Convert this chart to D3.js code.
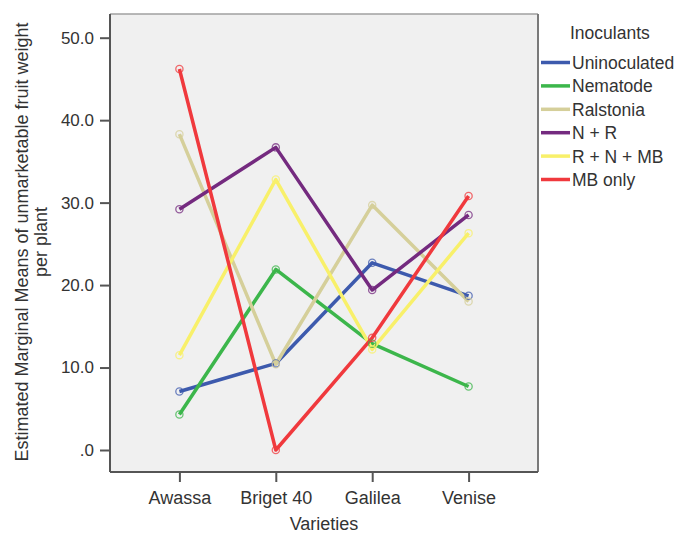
<!DOCTYPE html>
<html>
<head>
<meta charset="utf-8">
<script src="https://cdn.jsdelivr.net/npm/d3@7"></script>
<style>
  body { margin: 0; background: #fff; }
  text { font-family: "Liberation Sans", Arial, sans-serif; fill: #333; }
</style>
</head>
<body>
<div id="chart"></div>
<script>
// Data
const varieties = ["Awassa", "Briget 40", "Galilea", "Venise"];
const inoculants = ["Uninoculated", "Nematode", "Ralstonia", "N + R", "R + N + MB", "MB only"];
const colors = ["#3d5aad", "#3cb64b", "#d5cf9a", "#742a7f", "#f8f06a", "#f0393d"];

const uninoculated = [7.1, 10.5, 22.7, 18.7];
const nematode = [4.3, 21.9, 12.9, 7.7];
const ralstonia = [38.3, 10.4, 29.7, 18.0];
const nPlusR = [29.2, 36.7, 19.4, 28.5];
const rnmb = [11.5, 32.8, 12.2, 26.3];
const mbOnly = [46.2, 0.0, 13.6, 30.8];

const yTicks = [0, 10, 20, 30, 40, 50];

const series = [uninoculated, nematode, ralstonia, nPlusR, rnmb, mbOnly]
    .map((vals, i) => ({ name: inoculants[i], color: colors[i], values: vals }));

const width = 690, height = 536;
const plot = { left: 110, top: 14, right: 538, bottom: 472 };

const svg = d3.select("#chart").append("svg")
    .attr("width", width)
    .attr("height", height);

// Plot background
svg.append("rect")
    .attr("x", plot.left)
    .attr("y", plot.top)
    .attr("width", plot.right - plot.left)
    .attr("height", plot.bottom - plot.top)
    .attr("fill", "#f0f0f0");

const x = d3.scalePoint()
    .domain(varieties)
    .range([plot.left, plot.right])
    .padding(0.72);

const y = d3.scaleLinear()
    .domain([0, 50])
    .range([450, 37.7]);

// Frame top/right
svg.append("line")
    .attr("x1", plot.left).attr("x2", plot.right)
    .attr("y1", plot.top).attr("y2", plot.top)
    .attr("stroke", "#a0a0a0").attr("stroke-width", 1.5);
svg.append("line")
    .attr("x1", plot.right).attr("x2", plot.right)
    .attr("y1", plot.top).attr("y2", plot.bottom)
    .attr("stroke", "#7a7a7a").attr("stroke-width", 2);

// Axes
const yAxis = svg.append("g")
    .attr("transform", `translate(${plot.left},0)`)
    .call(d3.axisLeft(y).tickValues(yTicks).tickSize(10).tickSizeOuter(0)
        .tickFormat(d => d === 0 ? ".0" : d3.format(".1f")(d)));
yAxis.select(".domain").attr("d", `M0,${plot.top}V${plot.bottom}`);

const xAxis = svg.append("g")
    .attr("transform", `translate(0,${plot.bottom})`)
    .call(d3.axisBottom(x).tickSize(10).tickSizeOuter(0));
xAxis.select(".domain").attr("d", `M${plot.left},0H${plot.right}`);

svg.selectAll(".domain").attr("stroke", "#555").attr("stroke-width", 2);
svg.selectAll(".tick line").attr("stroke", "#555").attr("stroke-width", 2);
svg.selectAll(".tick text")
    .attr("font-family", "'Liberation Sans', Arial, sans-serif")
    .attr("fill", "#333");
yAxis.selectAll(".tick text").attr("x", -16).attr("font-size", 17);
xAxis.selectAll(".tick text").attr("y", 19).attr("font-size", 18);

// Lines
const line = d3.line()
    .x((d, i) => x(varieties[i]))
    .y(d => y(d));

const g = svg.append("g");
series.forEach(s => {
    g.append("path")
        .datum(s.values)
        .attr("fill", "none")
        .attr("stroke", s.color)
        .attr("stroke-width", 3.5)
        .attr("stroke-linejoin", "round")
        .attr("d", line);
});
series.forEach(s => {
    g.selectAll(null)
        .data(s.values)
        .enter()
        .append("circle")
        .attr("cx", (d, i) => x(varieties[i]))
        .attr("cy", d => y(d))
        .attr("r", 3.6)
        .attr("fill", "none")
        .attr("stroke", s.color)
        .attr("stroke-width", 1.3)
        .attr("opacity", 0.75);
});

// Axis titles
svg.append("text")
    .attr("x", (plot.left + plot.right) / 2)
    .attr("y", 530)
    .attr("text-anchor", "middle")
    .attr("font-size", 18)
    .text("Varieties");

const yTitle = svg.append("text")
    .attr("transform", `translate(28,${242}) rotate(-90)`)
    .attr("text-anchor", "middle")
    .attr("font-size", 18);
yTitle.append("tspan").attr("x", 0).attr("dy", 0)
    .text("Estimated Marginal Means of unmarketable fruit weight");
yTitle.append("tspan").attr("x", 0).attr("dy", 19).text("per plant");

// Legend
svg.append("text")
    .attr("x", 570)
    .attr("y", 39)
    .attr("font-size", 17.5)
    .text("Inoculants");

const legend = svg.append("g");
series.forEach((s, i) => {
    const ly = 62.5 + i * 23.4;
    legend.append("line")
        .attr("x1", 541).attr("x2", 570)
        .attr("y1", ly).attr("y2", ly)
        .attr("stroke", s.color)
        .attr("stroke-width", 3.5);
    legend.append("text")
        .attr("x", 572)
        .attr("y", ly + 6.5)
        .attr("font-size", 17.5)
        .text(s.name);
});
</script>
</body>
</html>
